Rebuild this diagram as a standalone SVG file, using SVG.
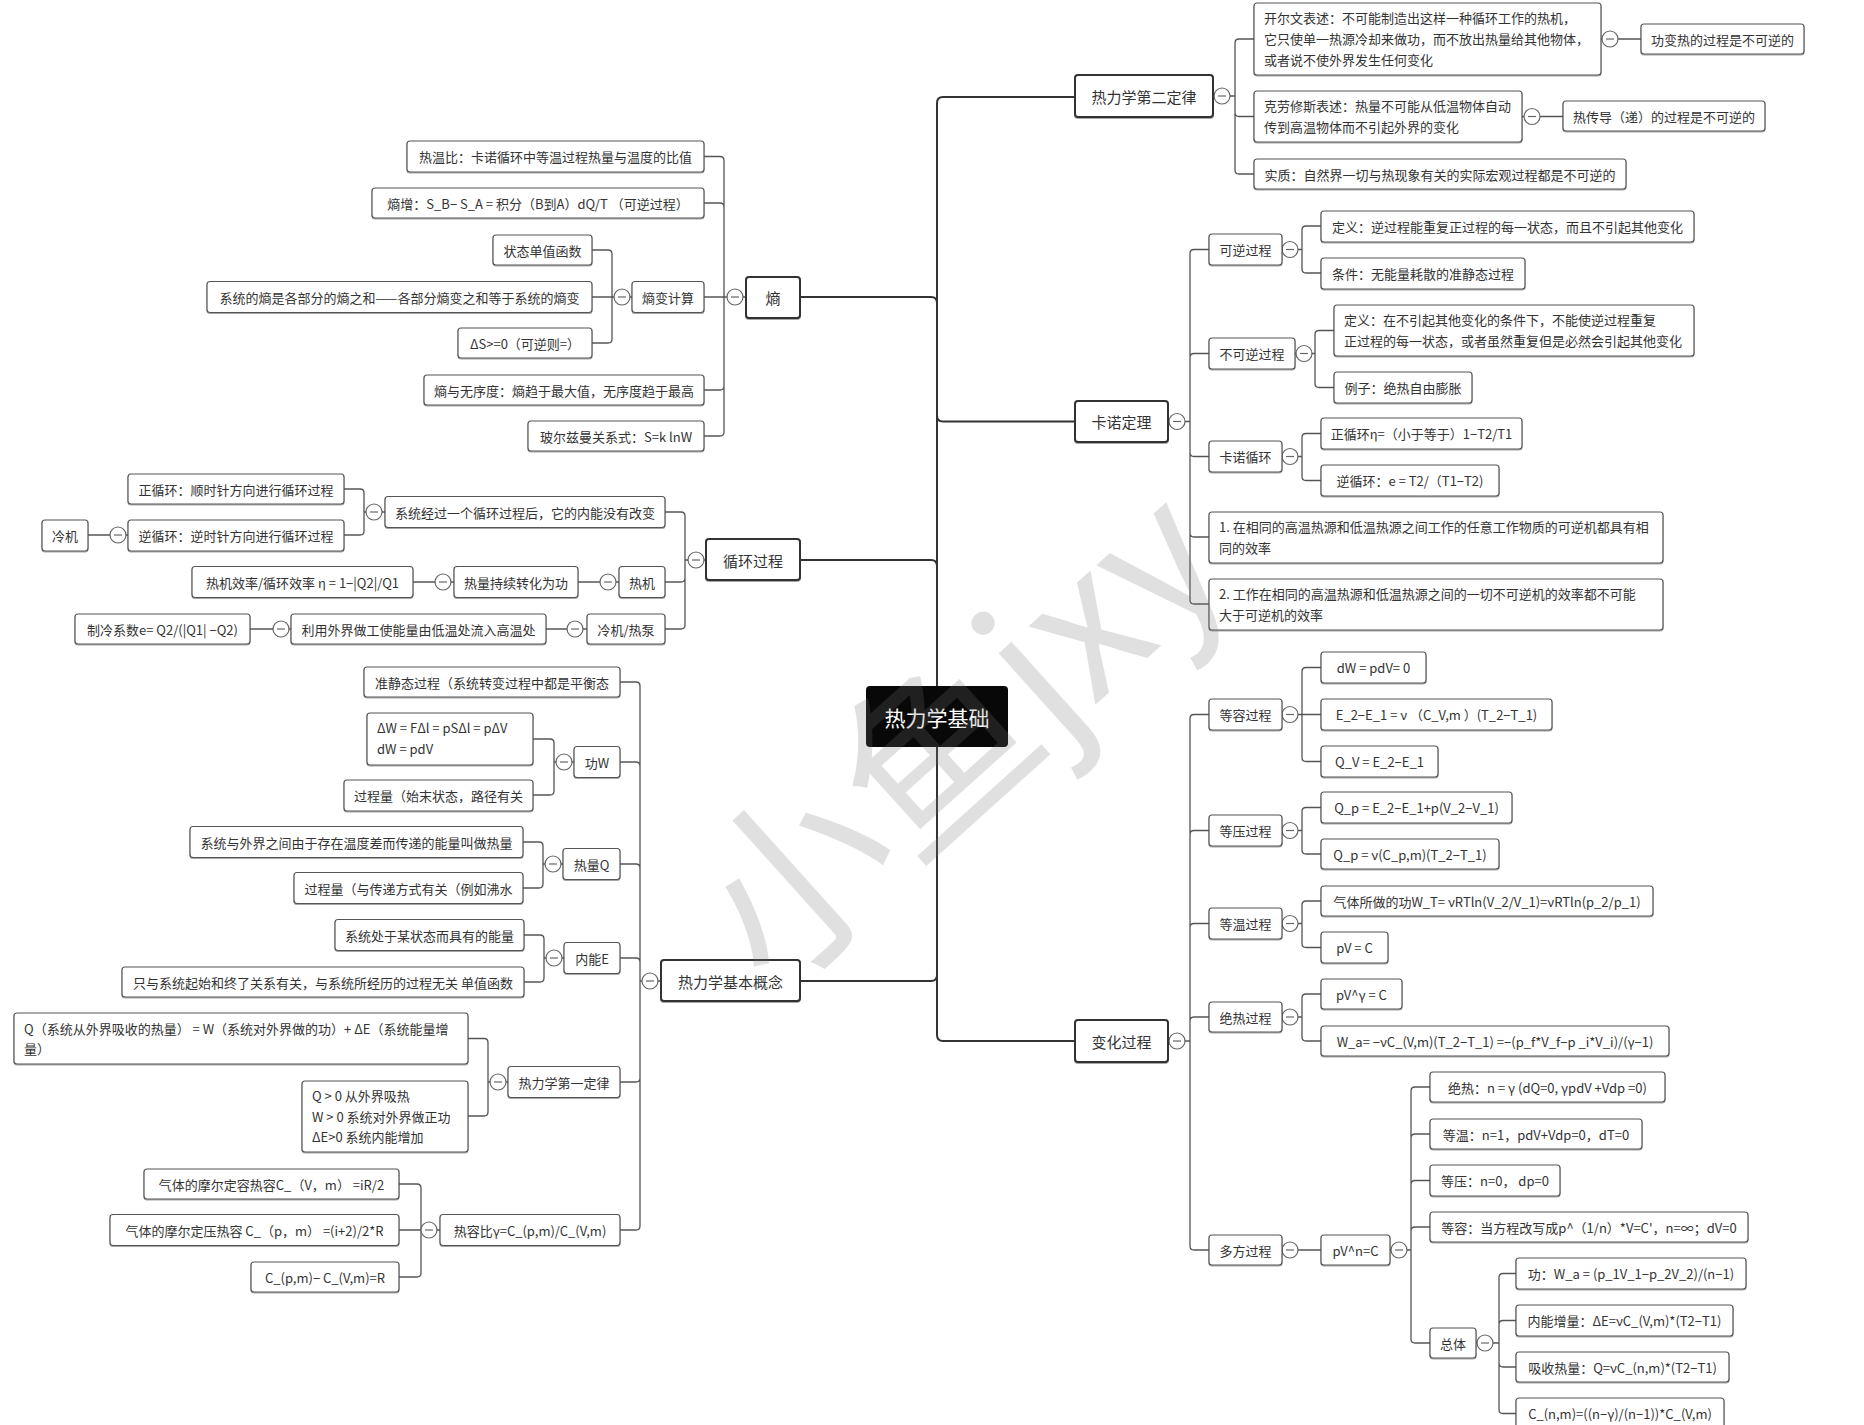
<svg xmlns="http://www.w3.org/2000/svg" width="1864" height="1425" viewBox="0 0 1864 1425">
<defs>
<filter id="sh" x="-5%" y="-10%" width="110%" height="130%"><feDropShadow dx="0" dy="1" stdDeviation="0.7" flood-color="#000" flood-opacity="0.35"/></filter>
<style>
.b{fill:#fff;stroke:#555;stroke-width:1.2;filter:url(#sh)}
.b1{fill:#fff;stroke:#333;stroke-width:2;filter:url(#sh)}
text{font-family:"Noto Sans CJK SC","Noto Sans",sans-serif;fill:#333;dominant-baseline:central}
.t{font-size:13px}
.tc{font-size:13px;text-anchor:middle}
.t1{font-size:15px;text-anchor:middle}
.c{fill:none;stroke:#555;stroke-width:1.3}
.m{fill:none;stroke:#333;stroke-width:2}
.k circle{fill:#fff;stroke:#666;stroke-width:1.2}
.k path{stroke:#666;stroke-width:1.2}
.wm{font-size:190px;fill:#777;opacity:0.22;dominant-baseline:alphabetic}
</style>
</defs>
<rect width="1864" height="1425" fill="#fff"/>

<g id="connectors">
<path class="m" d="M800 297 H931 Q937 297 937 303 M800 560 H931 Q937 560 937 566 M800 981 H931 Q937 981 937 975 M937 103 Q937 97 943 97 H1075 M937 103 V1035 Q937 1041 943 1041 H1075 M937 415.5 Q937 421.5 943 421.5 H1075"/>
<path class="c" d="M746 297 H724 M724 297 V160.5 Q724 156.5 720 156.5 H704 M724 297 V207 Q724 203 720 203 H704 M724 297 H704 M724 297 V386 Q724 390 720 390 H704 M724 297 V432 Q724 436 720 436 H704"/>
<path class="c" d="M632 297 H612 M612 297 V254 Q612 250 608 250 H592 M612 297 H592 M612 297 V339 Q612 343 608 343 H592"/>
<path class="c" d="M706 560 H685 M685 560 V516 Q685 512 681 512 H665 M685 560 V578 Q685 582 681 582 H665 M685 560 V625 Q685 629 681 629 H665"/>
<path class="c" d="M385 512 H364 M364 512 V493 Q364 489 360 489 H344 M364 512 V531 Q364 535 360 535 H344"/>
<path class="c" d="M128 535 H88 M619 582 H578 M454 582 H413 M587 629 H546 M291 629 H250"/>
<path class="c" d="M661 981 H640 M640 981 V686 Q640 682 636 682 H620 M640 981 V766 Q640 762 636 762 H620 M640 981 V868 Q640 864 636 864 H620 M640 981 V962 Q640 958 636 958 H620 M640 981 V1078 Q640 1082 636 1082 H620 M640 981 V1226 Q640 1230 636 1230 H620"/>
<path class="c" d="M574 762 H554 M554 762 V743 Q554 739 550 739 H533 M554 762 V791 Q554 795 550 795 H533"/>
<path class="c" d="M563 864 H543 M543 864 V846 Q543 842 539 842 H523 M543 864 V884 Q543 888 539 888 H523"/>
<path class="c" d="M564 958 H544 M544 958 V939 Q544 935 540 935 H524 M544 958 V978 Q544 982 540 982 H524"/>
<path class="c" d="M508 1082 H488 M488 1082 V1042.5 Q488 1038.5 484 1038.5 H468 M488 1082 V1112 Q488 1116 484 1116 H468"/>
<path class="c" d="M440 1230 H421 M421 1230 V1188 Q421 1184 417 1184 H399 M421 1230 H399 M421 1230 V1273 Q421 1277 417 1277 H399"/>
<path class="c" d="M1213 96 H1235 M1235 96 V43 Q1235 39 1239 39 H1254 M1235 96 V112.5 Q1235 116.5 1239 116.5 H1254 M1235 96 V170 Q1235 174 1239 174 H1254"/>
<path class="c" d="M1601 39 H1641 M1522 116.5 H1563"/>
<path class="c" d="M1168 421.5 H1190 M1190 421.5 V253.5 Q1190 249.5 1194 249.5 H1209 M1190 421.5 V357.5 Q1190 353.5 1194 353.5 H1209 M1190 421.5 V452.5 Q1190 456.5 1194 456.5 H1209 M1190 421.5 V533 Q1190 537 1194 537 H1209 M1190 421.5 V600 Q1190 604 1194 604 H1209"/>
<path class="c" d="M1282 249.5 H1302 M1302 249.5 V230 Q1302 226 1306 226 H1321 M1302 249.5 V269 Q1302 273 1306 273 H1321"/>
<path class="c" d="M1295 353.5 H1315 M1315 353.5 V334.5 Q1315 330.5 1319 330.5 H1334 M1315 353.5 V383.5 Q1315 387.5 1319 387.5 H1334"/>
<path class="c" d="M1282 456.5 H1302 M1302 456.5 V437.5 Q1302 433.5 1306 433.5 H1321 M1302 456.5 V476.5 Q1302 480.5 1306 480.5 H1321"/>
<path class="c" d="M1168 1041 H1190 M1190 1041 V718.5 Q1190 714.5 1194 714.5 H1209 M1190 1041 V834.5 Q1190 830.5 1194 830.5 H1209 M1190 1041 V927.5 Q1190 923.5 1194 923.5 H1209 M1190 1041 V1021 Q1190 1017 1194 1017 H1209 M1190 1041 V1246 Q1190 1250 1194 1250 H1209"/>
<path class="c" d="M1282 714.5 H1302 M1302 714.5 V671.5 Q1302 667.5 1306 667.5 H1321 M1302 714.5 H1321 M1302 714.5 V757.5 Q1302 761.5 1306 761.5 H1321"/>
<path class="c" d="M1282 830.5 H1302 M1302 830.5 V811.5 Q1302 807.5 1306 807.5 H1321 M1302 830.5 V850 Q1302 854 1306 854 H1321"/>
<path class="c" d="M1282 923.5 H1302 M1302 923.5 V905 Q1302 901 1306 901 H1321 M1302 923.5 V943.5 Q1302 947.5 1306 947.5 H1321"/>
<path class="c" d="M1282 1017 H1302 M1302 1017 V998 Q1302 994 1306 994 H1321 M1302 1017 V1037 Q1302 1041 1306 1041 H1321"/>
<path class="c" d="M1282 1250 H1321"/>
<path class="c" d="M1390 1250 H1411 M1411 1250 V1091 Q1411 1087 1415 1087 H1430 M1411 1250 V1138 Q1411 1134 1415 1134 H1430 M1411 1250 V1184.5 Q1411 1180.5 1415 1180.5 H1430 M1411 1250 V1231 Q1411 1227 1415 1227 H1430 M1411 1250 V1339 Q1411 1343 1415 1343 H1430"/>
<path class="c" d="M1476 1343 H1499 M1499 1343 V1277.5 Q1499 1273.5 1503 1273.5 H1516 M1499 1343 V1324.5 Q1499 1320.5 1503 1320.5 H1516 M1499 1343 V1363 Q1499 1367 1503 1367 H1516 M1499 1343 V1409.5 Q1499 1413.5 1503 1413.5 H1516"/>
<g class="k">
<circle cx="735" cy="297" r="8"/><path d="M731 297 H739"/>
<circle cx="622" cy="297" r="8"/><path d="M618 297 H626"/>
<circle cx="696" cy="560" r="8"/><path d="M692 560 H700"/>
<circle cx="374" cy="512" r="8"/><path d="M370 512 H378"/>
<circle cx="118" cy="535" r="8"/><path d="M114 535 H122"/>
<circle cx="608" cy="582" r="8"/><path d="M604 582 H612"/>
<circle cx="443" cy="582" r="8"/><path d="M439 582 H447"/>
<circle cx="575" cy="629" r="8"/><path d="M571 629 H579"/>
<circle cx="281" cy="629" r="8"/><path d="M277 629 H285"/>
<circle cx="650" cy="981" r="8"/><path d="M646 981 H654"/>
<circle cx="564" cy="762" r="8"/><path d="M560 762 H568"/>
<circle cx="553" cy="864" r="8"/><path d="M549 864 H557"/>
<circle cx="554" cy="958" r="8"/><path d="M550 958 H558"/>
<circle cx="498" cy="1082" r="8"/><path d="M494 1082 H502"/>
<circle cx="429" cy="1230" r="8"/><path d="M425 1230 H433"/>
<circle cx="1222" cy="96" r="8"/><path d="M1218 96 H1226"/>
<circle cx="1610" cy="39" r="8"/><path d="M1606 39 H1614"/>
<circle cx="1532" cy="116.5" r="8"/><path d="M1528 116.5 H1536"/>
<circle cx="1177" cy="421.5" r="8"/><path d="M1173 421.5 H1181"/>
<circle cx="1290" cy="249.5" r="8"/><path d="M1286 249.5 H1294"/>
<circle cx="1304" cy="353.5" r="8"/><path d="M1300 353.5 H1308"/>
<circle cx="1290" cy="456.5" r="8"/><path d="M1286 456.5 H1294"/>
<circle cx="1177" cy="1041" r="8"/><path d="M1173 1041 H1181"/>
<circle cx="1290" cy="714.5" r="8"/><path d="M1286 714.5 H1294"/>
<circle cx="1290" cy="830.5" r="8"/><path d="M1286 830.5 H1294"/>
<circle cx="1290" cy="923.5" r="8"/><path d="M1286 923.5 H1294"/>
<circle cx="1290" cy="1017" r="8"/><path d="M1286 1017 H1294"/>
<circle cx="1290" cy="1250" r="8"/><path d="M1286 1250 H1294"/>
<circle cx="1399" cy="1250" r="8"/><path d="M1395 1250 H1403"/>
<circle cx="1485" cy="1343" r="8"/><path d="M1481 1343 H1489"/>
</g>
</g>

<g id="n-center"><rect x="866" y="686" width="142" height="61" rx="4" fill="#080808"/><text x="937" y="717" style="font-size:21px;fill:#fff;text-anchor:middle">热力学基础</text></g>

<g id="n-shang"><rect class="b1" x="746" y="277" width="54" height="41" rx="3"/><text class="t1" x="773" y="297.5">熵</text></g>
<g id="n-rewenbi"><rect class="b" x="407" y="141" width="297" height="31" rx="3"/><text class="tc" x="555.5" y="156.5">热温比：卡诺循环中等温过程热量与温度的比值</text></g>
<g id="n-shangzeng"><rect class="b" x="372" y="188" width="332" height="30" rx="3"/><text class="tc" x="538" y="203">熵增：S_B− S_A = 积分（B到A）dQ/T （可逆过程）</text></g>
<g id="n-shangbian"><rect class="b" x="632" y="281.5" width="72" height="31" rx="3"/><text class="tc" x="668" y="297">熵变计算</text></g>
<g id="n-zhuangtai"><rect class="b" x="493" y="235" width="99" height="30" rx="3"/><text class="tc" x="542.5" y="250">状态单值函数</text></g>
<g id="n-shanghe"><rect class="b" x="207" y="281.5" width="385" height="31" rx="3"/><text class="tc" x="399.5" y="297">系统的熵是各部分的熵之和——各部分熵变之和等于系统的熵变</text></g>
<g id="n-ds"><rect class="b" x="458" y="328" width="134" height="30" rx="3"/><text class="tc" x="525" y="343">ΔS&gt;=0（可逆则=）</text></g>
<g id="n-wuxu"><rect class="b" x="424" y="375" width="280" height="30" rx="3"/><text class="tc" x="564" y="390">熵与无序度：熵趋于最大值，无序度趋于最高</text></g>
<g id="n-boltz"><rect class="b" x="528" y="421" width="176" height="30" rx="3"/><text class="tc" x="616" y="436">玻尔兹曼关系式：S=k lnW</text></g>

<g id="n-xunhuan"><rect class="b1" x="706" y="539" width="94" height="41" rx="3"/><text class="t1" x="753" y="560">循环过程</text></g>
<g id="n-neineng"><rect class="b" x="385" y="496.5" width="280" height="31" rx="3"/><text class="tc" x="525" y="512">系统经过一个循环过程后，它的内能没有改变</text></g>
<g id="n-zheng"><rect class="b" x="128" y="474" width="216" height="30" rx="3"/><text class="tc" x="236" y="489">正循环：顺时针方向进行循环过程</text></g>
<g id="n-ni"><rect class="b" x="128" y="520" width="216" height="31" rx="3"/><text class="tc" x="236" y="535">逆循环：逆时针方向进行循环过程</text></g>
<g id="n-lengji1"><rect class="b" x="42" y="520" width="46" height="31" rx="3"/><text class="tc" x="65" y="535">冷机</text></g>
<g id="n-reji"><rect class="b" x="619" y="566.5" width="46" height="31" rx="3"/><text class="tc" x="642" y="582">热机</text></g>
<g id="n-chixu"><rect class="b" x="454" y="566.5" width="124" height="31" rx="3"/><text class="tc" x="516" y="582">热量持续转化为功</text></g>
<g id="n-xiaolv"><rect class="b" x="192" y="566.5" width="221" height="31" rx="3"/><text class="tc" x="302.5" y="582">热机效率/循环效率 η = 1−|Q2|/Q1</text></g>
<g id="n-lengji"><rect class="b" x="587" y="614" width="78" height="30" rx="3"/><text class="tc" x="626" y="629">冷机/热泵</text></g>
<g id="n-liyong"><rect class="b" x="291" y="614" width="255" height="30" rx="3"/><text class="tc" x="418.5" y="629">利用外界做工使能量由低温处流入高温处</text></g>
<g id="n-zhileng"><rect class="b" x="75" y="614" width="175" height="30" rx="3"/><text class="tc" x="162.5" y="629">制冷系数e= Q2/(|Q1| −Q2)</text></g>

<g id="n-jiben"><rect class="b1" x="661" y="960" width="139" height="41" rx="3"/><text class="t1" x="730.5" y="981">热力学基本概念</text></g>
<g id="n-zhunjing"><rect class="b" x="364" y="667" width="256" height="30" rx="3"/><text class="tc" x="492" y="682">准静态过程（系统转变过程中都是平衡态</text></g>
<g id="n-gongw"><rect class="b" x="574" y="746.5" width="46" height="31" rx="3"/><text class="tc" x="597" y="762">功W</text></g>
<g id="n-dw"><rect class="b" x="367" y="713" width="166" height="52" rx="3"/><text class="t" x="377" y="727.5">ΔW = FΔl = pSΔl = pΔV</text><text class="t" x="377" y="748.5">dW = pdV</text></g>
<g id="n-guocheng1"><rect class="b" x="344" y="780" width="189" height="31" rx="3"/><text class="tc" x="438.5" y="795.5">过程量（始末状态，路径有关</text></g>
<g id="n-reliangq"><rect class="b" x="563" y="848.5" width="57" height="31" rx="3"/><text class="tc" x="591.5" y="864">热量Q</text></g>
<g id="n-reliangdef"><rect class="b" x="190" y="826.5" width="333" height="31" rx="3"/><text class="tc" x="356.5" y="842">系统与外界之间由于存在温度差而传递的能量叫做热量</text></g>
<g id="n-guocheng2"><rect class="b" x="294" y="872.5" width="229" height="31" rx="3"/><text class="tc" x="408.5" y="888">过程量（与传递方式有关（例如沸水</text></g>
<g id="n-neinenge"><rect class="b" x="564" y="942.5" width="56" height="31" rx="3"/><text class="tc" x="592" y="958">内能E</text></g>
<g id="n-neinengdef"><rect class="b" x="335" y="919.5" width="189" height="31" rx="3"/><text class="tc" x="429.5" y="935">系统处于某状态而具有的能量</text></g>
<g id="n-danzhi"><rect class="b" x="122" y="967" width="402" height="30" rx="3"/><text class="tc" x="323" y="982">只与系统起始和终了关系有关，与系统所经历的过程无关 单值函数</text></g>
<g id="n-diyi"><rect class="b" x="508" y="1066.5" width="112" height="31" rx="3"/><text class="tc" x="564" y="1082">热力学第一定律</text></g>
<g id="n-qwe"><rect class="b" x="14" y="1013" width="454" height="51" rx="3"/><text class="t" x="24" y="1028">Q（系统从外界吸收的热量） = W（系统对外界做的功）+ ΔE（系统能量增</text><text class="t" x="24" y="1048.5">量）</text></g>
<g id="n-sign"><rect class="b" x="302" y="1081" width="166" height="71" rx="3"/><text class="t" x="312" y="1095.5">Q &gt; 0 从外界吸热</text><text class="t" x="312" y="1116">W &gt; 0 系统对外界做正功</text><text class="t" x="312" y="1136.5">ΔE&gt;0 系统内能增加</text></g>
<g id="n-rerongbi"><rect class="b" x="440" y="1214.5" width="180" height="31" rx="3"/><text class="tc" x="530" y="1230">热容比γ=C_(p,m)/C_(V,m)</text></g>
<g id="n-cv"><rect class="b" x="144" y="1169" width="255" height="30" rx="3"/><text class="tc" x="271.5" y="1184">气体的摩尔定容热容C_（V，m） =iR/2</text></g>
<g id="n-cp"><rect class="b" x="110" y="1214.5" width="289" height="31" rx="3"/><text class="tc" x="254.5" y="1230">气体的摩尔定压热容 C_（p，m） =(i+2)/2*R</text></g>
<g id="n-cpcv"><rect class="b" x="251" y="1262" width="148" height="30" rx="3"/><text class="tc" x="325" y="1277">C_(p,m)− C_(V,m)=R</text></g>

<g id="n-dier"><rect class="b1" x="1075" y="75" width="138" height="42" rx="3"/><text class="t1" x="1144" y="96">热力学第二定律</text></g>
<g id="n-kaierwen"><rect class="b" x="1254" y="3" width="347" height="72" rx="3"/><text class="t" x="1264" y="17.5">开尔文表述：不可能制造出这样一种循环工作的热机，</text><text class="t" x="1264" y="38.5">它只使单一热源冷却来做功，而不放出热量给其他物体，</text><text class="t" x="1264" y="59.5">或者说不使外界发生任何变化</text></g>
<g id="n-gongbianre"><rect class="b" x="1641" y="24" width="163" height="30" rx="3"/><text class="tc" x="1722.5" y="39">功变热的过程是不可逆的</text></g>
<g id="n-kelaoxiusi"><rect class="b" x="1254" y="91" width="268" height="51" rx="3"/><text class="t" x="1264" y="105.5">克劳修斯表述：热量不可能从低温物体自动</text><text class="t" x="1264" y="126.5">传到高温物体而不引起外界的变化</text></g>
<g id="n-rechuandao"><rect class="b" x="1563" y="101" width="202" height="30" rx="3"/><text class="tc" x="1664" y="116">热传导（递）的过程是不可逆的</text></g>
<g id="n-shizhi"><rect class="b" x="1254" y="159" width="372" height="30" rx="3"/><text class="tc" x="1440" y="174">实质：自然界一切与热现象有关的实际宏观过程都是不可逆的</text></g>

<g id="n-kanuo"><rect class="b1" x="1075" y="401" width="93" height="41" rx="3"/><text class="t1" x="1121.5" y="421.5">卡诺定理</text></g>
<g id="n-keni"><rect class="b" x="1209" y="234" width="73" height="31" rx="3"/><text class="tc" x="1245.5" y="249.5">可逆过程</text></g>
<g id="n-keni-def"><rect class="b" x="1321" y="211" width="373" height="31" rx="3"/><text class="tc" x="1507.5" y="226.5">定义：逆过程能重复正过程的每一状态，而且不引起其他变化</text></g>
<g id="n-keni-cond"><rect class="b" x="1321" y="258" width="204" height="31" rx="3"/><text class="tc" x="1423" y="273.5">条件：无能量耗散的准静态过程</text></g>
<g id="n-bukeni"><rect class="b" x="1209" y="338" width="86" height="31" rx="3"/><text class="tc" x="1252" y="353.5">不可逆过程</text></g>
<g id="n-bukeni-def"><rect class="b" x="1334" y="305" width="360" height="51" rx="3"/><text class="t" x="1344" y="319.5">定义：在不引起其他变化的条件下，不能使逆过程重复</text><text class="t" x="1344" y="340">正过程的每一状态，或者虽然重复但是必然会引起其他变化</text></g>
<g id="n-lizi"><rect class="b" x="1334" y="372" width="138" height="31" rx="3"/><text class="tc" x="1403" y="387.5">例子：绝热自由膨胀</text></g>
<g id="n-kanuoxunhuan"><rect class="b" x="1209" y="441" width="73" height="31" rx="3"/><text class="tc" x="1245.5" y="456.5">卡诺循环</text></g>
<g id="n-zhengxh"><rect class="b" x="1321" y="418" width="201" height="31" rx="3"/><text class="tc" x="1421.5" y="433.5">正循环η=（小于等于）1−T2/T1</text></g>
<g id="n-nixh"><rect class="b" x="1321" y="465" width="178" height="31" rx="3"/><text class="tc" x="1410" y="480.5">逆循环：e = T2/（T1−T2)</text></g>
<g id="n-dingli1"><rect class="b" x="1209" y="512" width="454" height="51" rx="3"/><text class="t" x="1219" y="526.5">1. 在相同的高温热源和低温热源之间工作的任意工作物质的可逆机都具有相</text><text class="t" x="1219" y="547">同的效率</text></g>
<g id="n-dingli2"><rect class="b" x="1209" y="579" width="454" height="51" rx="3"/><text class="t" x="1219" y="593.5">2.  工作在相同的高温热源和低温热源之间的一切不可逆机的效率都不可能</text><text class="t" x="1219" y="614">大于可逆机的效率</text></g>

<g id="n-bianhua"><rect class="b1" x="1075" y="1020" width="93" height="42" rx="3"/><text class="t1" x="1121.5" y="1041">变化过程</text></g>
<g id="n-dengrong"><rect class="b" x="1209" y="699" width="73" height="31" rx="3"/><text class="tc" x="1245.5" y="714.5">等容过程</text></g>
<g id="n-dr1"><rect class="b" x="1321" y="652" width="105" height="31" rx="3"/><text class="tc" x="1373.5" y="667.5">dW = pdV= 0</text></g>
<g id="n-dr2"><rect class="b" x="1321" y="699" width="231" height="31" rx="3"/><text class="tc" x="1436.5" y="714.5">E_2−E_1 = ν （C_V,m ）(T_2−T_1)</text></g>
<g id="n-dr3"><rect class="b" x="1321" y="746" width="117" height="31" rx="3"/><text class="tc" x="1379.5" y="761.5">Q_V = E_2−E_1</text></g>
<g id="n-dengya"><rect class="b" x="1209" y="815" width="73" height="31" rx="3"/><text class="tc" x="1245.5" y="830.5">等压过程</text></g>
<g id="n-dy1"><rect class="b" x="1321" y="792" width="191" height="31" rx="3"/><text class="tc" x="1416.5" y="807.5">Q_p = E_2−E_1+p(V_2−V_1)</text></g>
<g id="n-dy2"><rect class="b" x="1321" y="839" width="178" height="30" rx="3"/><text class="tc" x="1410" y="854">Q_p = ν(C_p,m)(T_2−T_1)</text></g>
<g id="n-dengwen"><rect class="b" x="1209" y="908" width="73" height="31" rx="3"/><text class="tc" x="1245.5" y="923.5">等温过程</text></g>
<g id="n-dw1"><rect class="b" x="1321" y="886" width="332" height="30" rx="3"/><text class="tc" x="1487" y="901">气体所做的功W_T= νRTln(V_2/V_1)=νRTln(p_2/p_1)</text></g>
<g id="n-dw2"><rect class="b" x="1321" y="932" width="67" height="31" rx="3"/><text class="tc" x="1354.5" y="947.5">pV = C</text></g>
<g id="n-juere"><rect class="b" x="1209" y="1002" width="73" height="30" rx="3"/><text class="tc" x="1245.5" y="1017">绝热过程</text></g>
<g id="n-jr1"><rect class="b" x="1321" y="979" width="81" height="30" rx="3"/><text class="tc" x="1361.5" y="994">pV^γ = C</text></g>
<g id="n-jr2"><rect class="b" x="1321" y="1026" width="348" height="30" rx="3"/><text class="tc" x="1495" y="1041">W_a= −νC_(V,m)(T_2−T_1) =−(p_f*V_f−p _i*V_i)/(γ−1)</text></g>
<g id="n-duofang"><rect class="b" x="1209" y="1235" width="73" height="30" rx="3"/><text class="tc" x="1245.5" y="1250">多方过程</text></g>
<g id="n-pvn"><rect class="b" x="1321" y="1235" width="69" height="30" rx="3"/><text class="tc" x="1355.5" y="1250">pV^n=C</text></g>
<g id="n-df1"><rect class="b" x="1430" y="1072" width="235" height="30" rx="3"/><text class="tc" x="1547.5" y="1087">绝热：n = γ (dQ=0, γpdV +Vdp =0)</text></g>
<g id="n-df2"><rect class="b" x="1430" y="1119" width="212" height="30" rx="3"/><text class="tc" x="1536" y="1134">等温：n=1，pdV+Vdp=0，dT=0</text></g>
<g id="n-df3"><rect class="b" x="1430" y="1165" width="130" height="31" rx="3"/><text class="tc" x="1495" y="1180.5">等压：n=0， dp=0</text></g>
<g id="n-df4"><rect class="b" x="1430" y="1212" width="318" height="30" rx="3"/><text class="tc" x="1589" y="1227">等容：当方程改写成p^（1/n）*V=C'，n=∞；dV=0</text></g>
<g id="n-zongti"><rect class="b" x="1430" y="1328" width="46" height="30" rx="3"/><text class="tc" x="1453" y="1343">总体</text></g>
<g id="n-zt1"><rect class="b" x="1516" y="1258" width="230" height="31" rx="3"/><text class="tc" x="1631" y="1273.5">功：W_a = (p_1V_1−p_2V_2)/(n−1)</text></g>
<g id="n-zt2"><rect class="b" x="1516" y="1305" width="217" height="31" rx="3"/><text class="tc" x="1624.5" y="1320.5">内能增量：ΔE=νC_(V,m)*(T2−T1)</text></g>
<g id="n-zt3"><rect class="b" x="1516" y="1352" width="213" height="30" rx="3"/><text class="tc" x="1622.5" y="1367">吸收热量：Q=νC_(n,m)*(T2−T1)</text></g>
<g id="n-zt4"><rect class="b" x="1516" y="1398" width="208" height="31" rx="3"/><text class="tc" x="1620" y="1413.5">C_(n,m)=((n−γ)/(n−1))*C_(V,m)</text></g>

<text class="wm" transform="translate(772 996) rotate(-42)">小鱼jxy</text>
</svg>
